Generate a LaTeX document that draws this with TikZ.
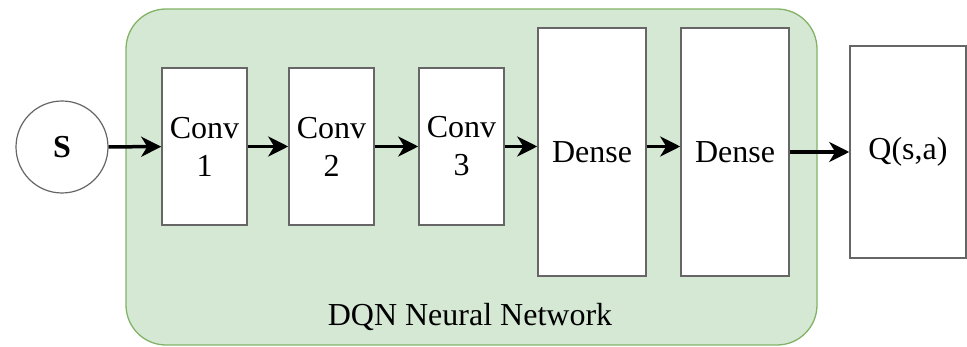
\documentclass[tikz,border=0pt]{standalone}
\usepackage{fontspec}
\newfontfamily\layerfont{Liberation Serif}[Scale=1.0]
\usepackage{tikz}
\usetikzlibrary{arrows.meta,positioning}
\definecolor{netfill}{HTML}{D5E8D4}
\definecolor{netdraw}{HTML}{82B366}
\definecolor{boxdraw}{HTML}{666666}
\tikzset{
  lnode/.style = {align=center, inner sep=0pt, text centered, font=\fontsize{32}{38}\layerfont\selectfont},
  layer/.style = {lnode, rectangle, fill=white, draw=boxdraw, line width=1.5pt},
  conv/.style = {layer, minimum width=85pt, minimum height=157pt},
  dense/.style = {layer, minimum width=108pt, minimum height=248pt},
  innode/.style = {lnode, circle, fill=white, draw=boxdraw, line width=1.2pt, minimum size=92pt},
  flow/.style = {line width=3.5pt, -{Stealth[length=20pt,width=20pt,inset=6pt]}},
}
\begin{document}
\begin{tikzpicture}[x=1pt,y=-1pt]
\useasboundingbox (0,0) rectangle (967,347);
\draw [fill=netfill, draw=netdraw, line width=1.3pt, rounded corners=40pt] (126,9) rectangle (817,345);
\node [lnode] (net) at (470,317) {DQN Neural Network};
\node [innode] (S) at (62,147) {\textbf{S}};
\node [conv] (C1) at (204.5,146.5) {Conv\\1};
\node [conv] (C2) at (331.5,146.5) {Conv\\2};
\node [conv] (C3) at (461.5,146.5) {Conv\\3};
\node [dense] (D1) at (592,152) {Dense};
\node [dense] (D2) at (735,152) {Dense};
\node [layer, minimum width=116pt, minimum height=212pt] (Q) at (908,152) {Q(s,a)};
\draw [flow] (S) -- (C1);
\draw [flow] (C1) -- (C2);
\draw [flow] (C2) -- (C3);
\draw [flow] (C3.east) -- (C3.east -| D1.west);
\draw [flow] (D1.east |- C3.east) -- (D2.west |- C3.east);
\draw [flow] (D2.east |- Q.west) -- (Q.west);
\end{tikzpicture}
\end{document}
